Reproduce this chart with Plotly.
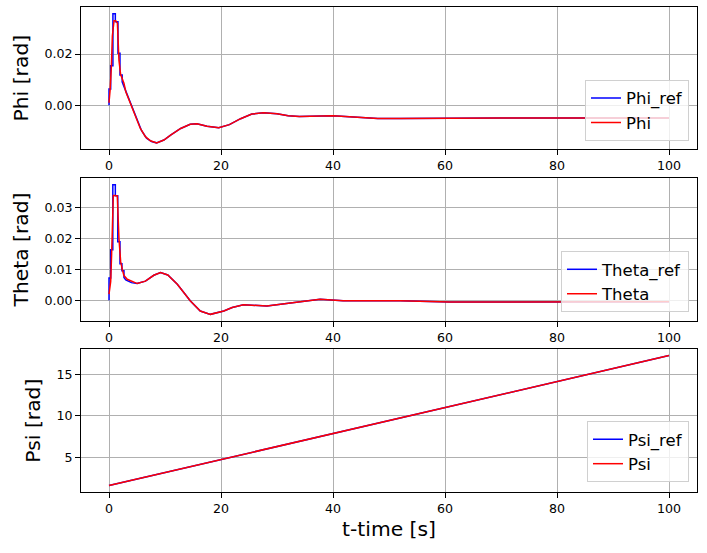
import plotly.graph_objects as go

# ---------------- data ----------------
# Phi [rad]
phi_t_early = [0, 0.2, 0.42, 0.6, 0.9, 1.2, 1.5, 1.78, 2.08, 2.67, 3.0, 3.6, 4.2, 4.8, 5.6, 6.5, 7.4]
phi_early = [0.001, 0.006, 0.015, 0.027, 0.033, 0.033, 0.032, 0.0175, 0.012, 0.0086, 0.0053, 0.0021,
             -0.0012, -0.0045, -0.0090, -0.0122, -0.0138]
phi_ref_t_early = [0, 0, 0.3, 0.3, 0.7, 0.7, 1.13, 1.13, 1.6, 1.6, 1.96, 1.96, 2.35, 2.35, 2.7,
                   3.2, 3.8, 4.4, 5.0, 5.8, 6.7, 7.6]
phi_ref_early = [0, 0.0064, 0.0064, 0.0154, 0.0154, 0.0357, 0.0357, 0.0326, 0.0326, 0.0203, 0.0203,
                 0.0118, 0.0118, 0.0092, 0.0072, 0.0045, 0.0012, -0.0022, -0.0055, -0.0098, -0.0128, -0.0141]
phi_t_tail = [8.5, 9.8, 11, 12.8, 14.5, 15.7, 17.5, 19.6, 21.5, 23.5, 25.5, 27.6, 30, 32, 34, 36, 38,
              40, 42, 45, 48, 52, 60, 70, 80, 90, 100]
phi_tail = [-0.0146, -0.0135, -0.0116, -0.0090, -0.0074, -0.0072, -0.0081, -0.0087, -0.0075, -0.0052,
            -0.0034, -0.0029, -0.0033, -0.0040, -0.0043, -0.0043, -0.0041, -0.0040, -0.0042, -0.0047,
            -0.0051, -0.0051, -0.0049, -0.0049, -0.0049, -0.0049, -0.0049]

# Theta [rad]
theta_t_early = [0, 0.3, 0.47, 0.77, 1.0, 1.2, 1.48, 1.78, 2.08, 2.37, 2.67, 3.26, 4.45, 5.05]
theta_early = [0.002, 0.006, 0.015, 0.034, 0.034, 0.034, 0.0339, 0.020, 0.0126, 0.0100, 0.0080,
               0.0068, 0.0057, 0.0054]
theta_ref_t_early = [0, 0, 0.3, 0.3, 0.68, 0.68, 1.13, 1.13, 1.56, 1.56, 1.96, 1.96, 2.31, 2.31, 2.67,
                     2.67, 3.0, 4.0, 5.0]
theta_ref_early = [0, 0.0072, 0.0072, 0.0164, 0.0164, 0.0375, 0.0375, 0.0339, 0.0339, 0.0190, 0.0190,
                   0.0118, 0.0118, 0.0096, 0.0096, 0.0074, 0.0066, 0.0057, 0.0054]
theta_t_tail = [6.5, 8.0, 9.2, 10.5, 12.2, 13.5, 14.5, 16.3, 18.1, 20.5, 22, 24, 26, 28.2, 31.7, 35,
                37.7, 41.8, 46, 52, 60.8, 70, 78.6, 90, 100]
theta_tail = [0.0062, 0.0081, 0.0090, 0.0082, 0.0052, 0.0022, -0.0002, -0.0035, -0.0046, -0.0035,
              -0.0024, -0.0015, -0.0016, -0.0019, -0.0011, -0.0002, 0.0003, -0.0002, -0.0002, -0.0002,
              -0.0006, -0.0006, -0.0005, -0.0005, -0.0005]

# Psi [rad]
psi_t = [0, 10, 20, 30, 40, 50, 60, 70, 80, 90, 100]
psi = [1.60, 3.17, 4.73, 6.30, 7.86, 9.43, 10.99, 12.56, 14.12, 15.69, 17.25]
psi_ref = [1.60, 3.17, 4.73, 6.30, 7.86, 9.43, 10.99, 12.56, 14.12, 15.69, 17.25]

x_ticks = [0, 20, 40, 60, 80, 100]

# ---------------- figure ----------------
BLUE = "#0000ff"
RED = "#ff0000"
FONT = "DejaVu Sans"
LW = 1.5

fig = go.Figure()

panels = [
    ("Phi", phi_ref_t_early + phi_t_tail, phi_ref_early + phi_tail,
     phi_t_early + phi_t_tail, phi_early + phi_tail, "x", "y", "legend"),
    ("Theta", theta_ref_t_early + theta_t_tail, theta_ref_early + theta_tail,
     theta_t_early + theta_t_tail, theta_early + theta_tail, "x2", "y2", "legend2"),
    ("Psi", psi_t, psi_ref, psi_t, psi, "x3", "y3", "legend3"),
]

for name, tr, vr, ta, va, xa, ya, lg in panels:
    fig.add_trace(go.Scatter(x=tr, y=vr, mode="lines", name=name + "_ref",
                             line=dict(color=BLUE, width=LW), xaxis=xa, yaxis=ya, legend=lg))
    fig.add_trace(go.Scatter(x=ta, y=va, mode="lines", name=name,
                             line=dict(color=RED, width=LW), xaxis=xa, yaxis=ya, legend=lg))

axis_common = dict(showline=True, linecolor="black", linewidth=1, mirror=True,
                   ticks="outside", ticklen=5, tickwidth=1, tickcolor="black",
                   showgrid=True, gridcolor="#b0b0b0", gridwidth=1, zeroline=False,
                   automargin=False,
                   tickfont=dict(family=FONT, size=12.6, color="black"))

xcommon = dict(axis_common, range=[-5, 105], tickvals=x_ticks, ticktext=[str(v) for v in x_ticks])

ytitle_font = dict(family=FONT, size=20.3, color="black")

legend_common = dict(xanchor="right", yanchor="bottom", bgcolor="rgba(255,255,255,0.8)",
                     bordercolor="#d0d0d0", borderwidth=1,
                     font=dict(family=FONT, size=16.5, color="black"),
                     tracegroupgap=0, itemwidth=30)

fig.update_layout(
    width=707, height=553,
    margin=dict(l=81, r=10, t=7, b=61, autoexpand=False),
    paper_bgcolor="white", plot_bgcolor="white",
    showlegend=True,
    xaxis=dict(xcommon, domain=[0, 1], anchor="y"),
    xaxis2=dict(xcommon, domain=[0, 1], anchor="y2"),
    xaxis3=dict(xcommon, domain=[0, 1], anchor="y3",
                title=dict(text="t-time [s]", font=ytitle_font, standoff=6)),
    yaxis=dict(axis_common, domain=[0.7072, 0.9994], anchor="x", range=[-0.0170, 0.0382],
               tickvals=[0.0, 0.02], ticktext=["0.00", "0.02"],
               title=dict(text="Phi [rad]", font=ytitle_font, standoff=10)),
    yaxis2=dict(axis_common, domain=[0.3532, 0.6468], anchor="x2", range=[-0.00666, 0.0396],
                tickvals=[0.0, 0.01, 0.02, 0.03], ticktext=["0.00", "0.01", "0.02", "0.03"],
                title=dict(text="Theta [rad]", font=ytitle_font, standoff=10)),
    yaxis3=dict(axis_common, domain=[0, 0.2942], anchor="x3", range=[0.82, 18.0],
                tickvals=[5, 10, 15], ticktext=["5", "10", "15"],
                title=dict(text="Psi [rad]", font=ytitle_font, standoff=10)),
    legend=dict(legend_common, x=0.987, y=0.7243),
    legend2=dict(legend_common, x=0.987, y=0.371),
    legend3=dict(legend_common, x=0.987, y=0.0206),
)

fig.write_html("out.html", config={"displayModeBar": False},
               post_script="document.body.style.margin='0';document.body.style.overflow='hidden';")
